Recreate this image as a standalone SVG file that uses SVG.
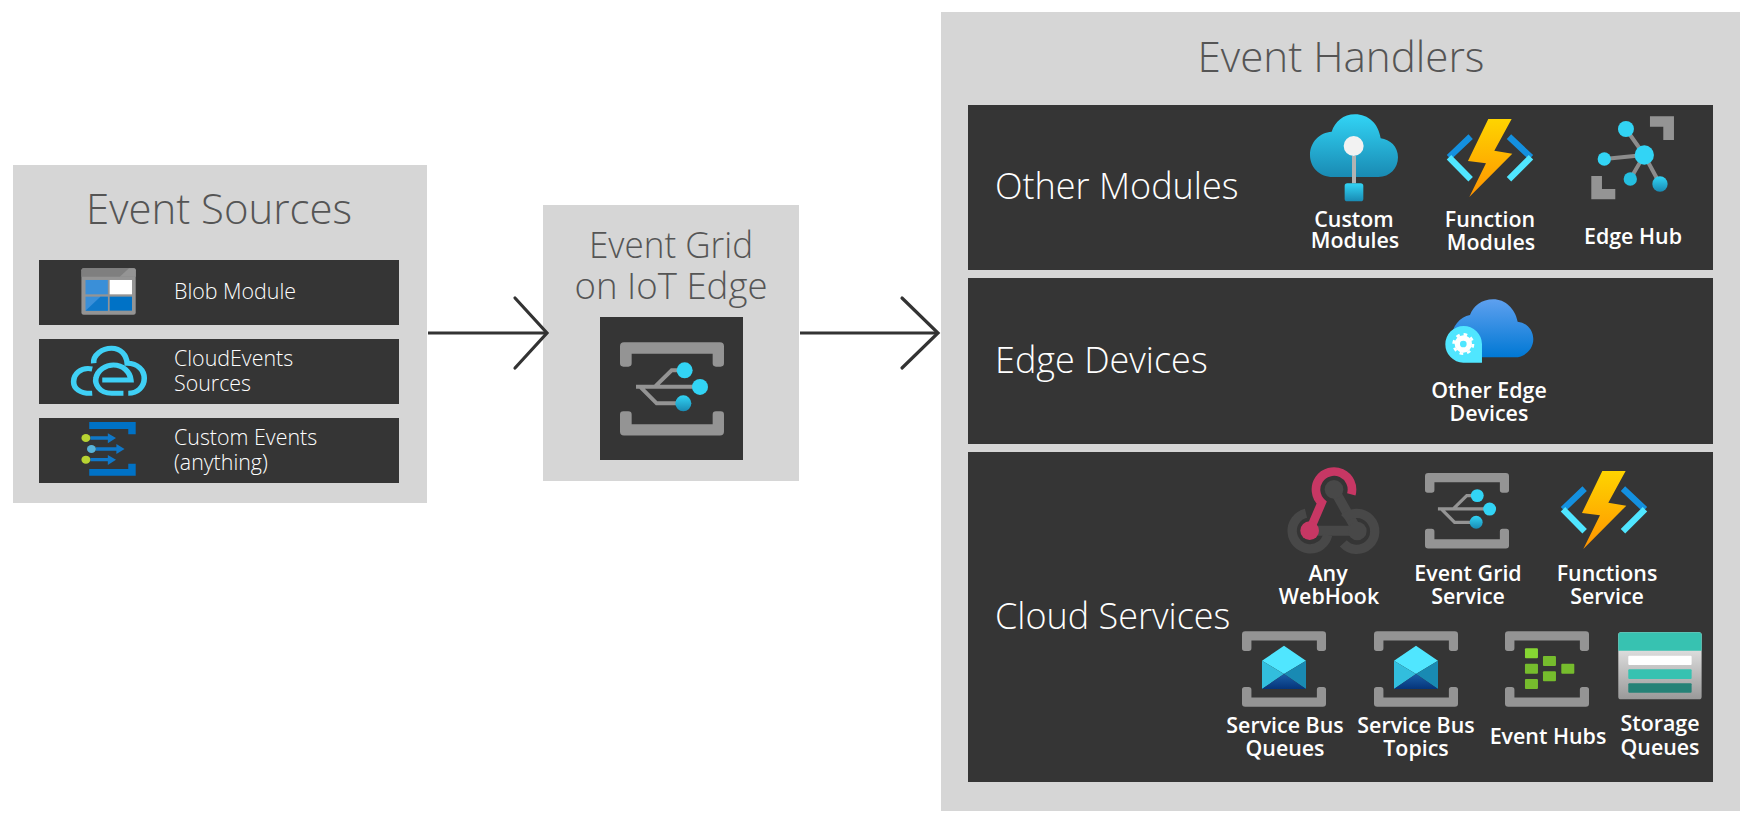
<svg xmlns="http://www.w3.org/2000/svg" xmlns:xlink="http://www.w3.org/1999/xlink" width="1749" height="823" viewBox="0 0 1749 823">
<style>
.panel{fill:#d6d6d6}
.dark{fill:#353535}
text{font-family:"Open Sans","Noto Sans","Liberation Sans",sans-serif}
.title{font-weight:300;fill:#555;text-anchor:middle}
.head{font-size:36px;font-weight:300;fill:#fff}
.src{font-size:21.4px;font-weight:300;fill:#fff}
.lbl{font-size:21.4px;font-weight:600;fill:#fff;text-anchor:middle}
.conn{fill:none;stroke:#333;stroke-width:3.2}
.br{fill:#949494}
.ln{fill:none;stroke:#949494;stroke-width:12}
</style>
<defs>
<linearGradient id="gBlue" x1="0" y1="0" x2="0" y2="1"><stop offset="0" stop-color="#32d4f5"/><stop offset="1" stop-color="#198ab3"/></linearGradient>
<linearGradient id="gBolt" x1="0" y1="0" x2="0" y2="1"><stop offset="0" stop-color="#fed400"/><stop offset="1" stop-color="#ff9300"/></linearGradient>
<linearGradient id="gCloud" x1="0" y1="0" x2="0" y2="1"><stop offset="0" stop-color="#5ea0ef"/><stop offset="1" stop-color="#0078d4"/></linearGradient>
<linearGradient id="gEnv" x1="0" y1="0" x2="0" y2="1"><stop offset="0" stop-color="#1b5fa8"/><stop offset="1" stop-color="#05347a"/></linearGradient>
<linearGradient id="gStore" x1="0" y1="0" x2="0" y2="1"><stop offset="0" stop-color="#f5f5f5"/><stop offset="1" stop-color="#999"/></linearGradient>
<marker id="headA" markerUnits="userSpaceOnUse" markerWidth="44" markerHeight="84" refX="38" refY="42" orient="auto"><path d="M6,7 L38,42 L6,77" fill="none" stroke="#333" stroke-width="3.2" stroke-linecap="round"/></marker>
<marker id="headB" markerUnits="userSpaceOnUse" markerWidth="48" markerHeight="84" refX="42" refY="42" orient="auto"><path d="M6,7 L42,42 L6,77" fill="none" stroke="#333" stroke-width="3.2" stroke-linecap="round"/></marker>
<g id="bracket">
<path class="br" d="M12,0H300Q312,0 312,12V63Q312,73 302,73H288Q278,73 278,63V34H35V63Q35,73 25,73H10Q0,73 0,63V12Q0,0 12,0Z"/>
<path class="br" d="M10,207H25Q35,207 35,217V246H278V217Q278,207 288,207H302Q312,207 312,217V268Q312,280 300,280H12Q0,280 0,268V217Q0,207 10,207Z"/>
</g>
<g id="grid">
<use xlink:href="#bracket"/>
<path class="ln" d="M48,133H230M105,133L155,84H185M60,133L110,183H180" stroke-linejoin="miter"/>
<circle cx="194" cy="84" r="24" fill="#32d4f5"/><circle cx="240" cy="134" r="24" fill="#32d4f5"/><circle cx="190" cy="183" r="24" fill="url(#gBlue)"/>
</g>
<g id="bolt">
<path d="M597,172L662,110M843,172L777,110" stroke="#1490df" stroke-width="19" fill="none"/>
<path d="M597,172L662,238M843,172L777,238" stroke="#50e6ff" stroke-width="19" fill="none"/>
<path d="M715,57H785L733,152L787,161L658,291L708,190L654,183Z" fill="url(#gBolt)"/>
</g>
<g id="envelope">
<path d="M0,45L66,0L132,45L66,85Z" fill="#50e6ff"/>
<path d="M0,45L66,85L0,130Z" fill="#32bedd"/>
<path d="M132,45L66,85L132,130Z" fill="#198ab3"/>
<path d="M0,130L66,85L132,130Z" fill="url(#gEnv)"/>
</g>
</defs>
<rect width="1749" height="823" fill="#fff"/>

<g id="event-sources">
<rect class="panel" x="13" y="165" width="414" height="338"/>
<text class="title" x="219" y="224" font-size="43" textLength="266" lengthAdjust="spacingAndGlyphs">Event Sources</text>
</g>
<g id="blob-module">
<rect class="dark" x="39" y="260" width="360" height="65"/>
<g transform="translate(0,150) scale(.3718,.3333)">
<rect x="219" y="355" width="146" height="139" rx="6" fill="#949494"/>
<path d="M219,361q0,-6 6,-6H359q6,0 6,6V380H219Z" fill="#7f7f7f"/>
<path d="M322,380L347,355H359q6,0 6,6V380Z" fill="#949494"/>
<rect x="230" y="390" width="60" height="43" fill="#3a8fd8"/><rect x="295" y="390" width="60" height="43" fill="#fff"/>
<rect x="230" y="440" width="60" height="42" fill="#3a8fd8"/><path d="M230,482L270,440H290V482Z" fill="#0f78c9"/><rect x="295" y="440" width="60" height="42" fill="#0072c6"/>
</g>
<text class="src" x="174" y="299">Blob Module</text>
</g>
<g id="cloudevents-sources">
<rect class="dark" x="39" y="339" width="360" height="65"/>
<g transform="translate(0,150) scale(.3718,.3333)" fill="none" stroke="#3fd0f5" stroke-width="15">
<path d="M248,657C215,650 198,675 198,695C198,715 215,732 248,730"/>
<path d="M252,640C250,615 275,595 300,595C325,595 340,615 342,640C370,640 388,660 388,685C388,710 370,730 345,730"/>
<path d="M332,730H300C265,730 255,700 258,685C262,660 285,645 305,645C330,645 350,665 352,690H275"/>
</g>
<text class="src" x="174" y="366">CloudEvents</text>
<text class="src" x="174" y="391">Sources</text>
</g>
<g id="custom-events">
<rect class="dark" x="39" y="418" width="360" height="65"/>
<g transform="translate(0,150) scale(.3718,.3333)">
<path d="M240,816H365V853H345V837H240Z" fill="#0072c6"/>
<path d="M240,977H365V941H345V957H240Z" fill="#0072c6"/>
<path d="M243,864H295M258,897H318M243,929H295" stroke="#0f78c9" stroke-width="10" fill="none"/>
<path d="M290,850L312,864L290,880ZM313,882L335,897L313,912ZM290,915L312,929L290,945Z" fill="#0f78c9"/>
<circle cx="231" cy="864" r="12" fill="#b8d432"/><circle cx="246" cy="897" r="12" fill="#59b4d9"/><circle cx="231" cy="929" r="12" fill="#b8d432"/>
</g>
<text class="src" x="174" y="445">Custom Events</text>
<text class="src" x="174" y="470">(anything)</text>
</g>

<g id="event-grid-edge">
<rect class="panel" x="543" y="205" width="256" height="276"/>
<text class="title" x="671" y="258" font-size="37" textLength="164" lengthAdjust="spacingAndGlyphs">Event Grid</text>
<text class="title" x="671" y="299" font-size="37" textLength="193" lengthAdjust="spacingAndGlyphs">on IoT Edge</text>
<rect class="dark" x="600" y="317" width="143" height="143"/>
<use xlink:href="#grid" transform="translate(620,342.3) scale(.3333)"/>
</g>

<g id="event-handlers">
<rect class="panel" x="941" y="12" width="799" height="799"/>
<text class="title" x="1341" y="72" font-size="42.5" textLength="287" lengthAdjust="spacingAndGlyphs">Event Handlers</text>
</g>
<g id="other-modules">
<rect class="dark" x="968" y="105" width="745" height="165"/>
<text class="head" x="995" y="199">Other Modules</text>
</g>
<g id="custom-modules">
<g transform="translate(1250,100) scale(.3333)">
<path d="M250,231C205,231 180,200 180,165C180,125 210,97 245,95C255,65 280,43 315,43C355,43 385,70 392,115C420,118 444,140 444,172C444,205 420,231 385,231Z" fill="url(#gBlue)"/>
<path d="M312,168V250" stroke="#b3b3b3" stroke-width="12"/>
<circle cx="311" cy="138" r="30" fill="#f2f2f2"/>
<rect x="284" y="250" width="56" height="54" rx="8" fill="url(#gBlue)"/>
</g>
<text class="lbl" x="1354" y="227">Custom</text><text class="lbl" x="1355" y="248">Modules</text>
</g>
<g id="function-modules">
<use xlink:href="#bolt" transform="translate(1250,100) scale(.3333)"/>
<text class="lbl" x="1490" y="227">Function</text><text class="lbl" x="1491" y="250">Modules</text>
</g>
<g id="edge-hub">
<g transform="translate(1250,100) scale(.3333)">
<path d="M1183,165L1128,87M1183,165L1063,177M1183,165L1141,237M1183,165L1230,252" stroke="#8c8c8c" stroke-width="12" fill="none"/>
<circle cx="1128" cy="87" r="24" fill="#32d4f5"/><circle cx="1063" cy="177" r="20" fill="#32d4f5"/><circle cx="1183" cy="165" r="29" fill="#32d4f5"/><circle cx="1141" cy="237" r="20" fill="#25bfe0"/><circle cx="1230" cy="252" r="23" fill="url(#gBlue)"/>
<path class="br" d="M1200,49H1272V120H1240V80H1200Z"/><path class="br" d="M1024,228H1056V267H1096V298H1024Z"/>
</g>
<text class="lbl" x="1633" y="244">Edge Hub</text>
</g>
<g id="edge-devices">
<rect class="dark" x="968" y="278" width="745" height="166"/>
<text class="head" x="995" y="373">Edge Devices</text>
</g>
<g id="other-edge-devices">
<g transform="translate(1250,100) scale(.3333)">
<path d="M650,772H795C825,772 850,748 850,718C850,690 830,668 803,665C795,625 765,598 730,598C695,598 670,618 660,645C630,650 605,680 605,715V772Z" fill="url(#gCloud)"/>
<path d="M696,788H640A55,55 0 1 1 696,732Z" fill="#50e6ff"/>
<circle cx="640" cy="732" r="18" fill="none" stroke="#fff" stroke-width="16"/>
<circle cx="640" cy="732" r="29" fill="none" stroke="#fff" stroke-width="8" stroke-dasharray="11 11.77"/>
</g>
<text class="lbl" x="1489" y="398">Other Edge</text><text class="lbl" x="1489" y="421">Devices</text>
</g>
<g id="cloud-services">
<rect class="dark" x="968" y="452" width="745" height="330"/>
<text class="head" x="995" y="629">Cloud Services</text>
</g>
<g id="any-webhook">
<g transform="translate(1210,450) scale(.3333)" fill="none">
<path d="M372,118L442,243M299,242H442" stroke="#484848" stroke-width="30"/>
<circle cx="372" cy="118" r="28" fill="#484848"/><circle cx="442" cy="243" r="28" fill="#484848"/>
<path d="M288,190A54,54 0 1 0 353,255" stroke="#484848" stroke-width="28"/>
<path d="M403,205A54,54 0 1 1 400,280" stroke="#484848" stroke-width="28"/>
<path d="M424,133A54,54 0 1 0 335,158L299,242" stroke="#c73764" stroke-width="26"/>
<circle cx="299" cy="242" r="28" fill="#c73764"/>
</g>
<text class="lbl" x="1328" y="581">Any</text><text class="lbl" x="1329" y="604">WebHook</text>
</g>
<g id="event-grid-service">
<use xlink:href="#grid" transform="translate(1425,473) scale(.2693)"/>
<text class="lbl" x="1468" y="581">Event Grid</text><text class="lbl" x="1468" y="604">Service</text>
</g>
<g id="functions-service">
<use xlink:href="#bolt" transform="translate(1364,452) scale(.3333)"/>
<text class="lbl" x="1607" y="581">Functions</text><text class="lbl" x="1607" y="604">Service</text>
</g>
<g id="service-bus-queues">
<use xlink:href="#bracket" transform="translate(1242,631.3) scale(.2693)"/>
<use xlink:href="#envelope" transform="translate(1262,645.7) scale(.3333)"/>
<text class="lbl" x="1285" y="733">Service Bus</text><text class="lbl" x="1285" y="756">Queues</text>
</g>
<g id="service-bus-topics">
<use xlink:href="#bracket" transform="translate(1374,631.3) scale(.2693)"/>
<use xlink:href="#envelope" transform="translate(1394,645.7) scale(.3333)"/>
<text class="lbl" x="1416" y="733">Service Bus</text><text class="lbl" x="1416" y="756">Topics</text>
</g>
<g id="event-hubs">
<use xlink:href="#bracket" transform="translate(1505,631.3) scale(.2693)"/>
<g transform="translate(1210,450) scale(.3333)">
<rect x="945" y="595" width="39" height="30" rx="3" fill="#86d633"/><rect x="945" y="641" width="39" height="30" rx="3" fill="#76bc2d"/><rect x="945" y="687" width="39" height="30" rx="3" fill="#76bc2d"/>
<rect x="999" y="618" width="39" height="30" rx="3" fill="#76bc2d"/><rect x="999" y="664" width="39" height="30" rx="3" fill="#76bc2d"/>
<rect x="1054" y="641" width="39" height="30" rx="3" fill="#76bc2d"/>
</g>
<text class="lbl" x="1548" y="744">Event Hubs</text>
</g>
<g id="storage-queues">
<g transform="translate(1210,450) scale(.3333)">
<rect x="1225" y="547" width="250" height="201" rx="8" fill="url(#gStore)"/>
<path d="M1225,602V555q0,-8 8,-8H1467q8,0 8,8V602Z" fill="#37c2b1"/>
<rect x="1255" y="617" width="190" height="28" rx="3" fill="#fff"/>
<rect x="1255" y="658" width="190" height="29" rx="3" fill="#37c2b1"/>
<rect x="1255" y="700" width="190" height="28" rx="3" fill="#258277"/>
</g>
<text class="lbl" x="1660" y="731">Storage</text><text class="lbl" x="1660" y="755">Queues</text>
</g>

<g id="connectors">
<path class="conn" d="M428,333H547" marker-end="url(#headA)"/>
<path class="conn" d="M800,333H938" marker-end="url(#headB)"/>
</g>
</svg>
